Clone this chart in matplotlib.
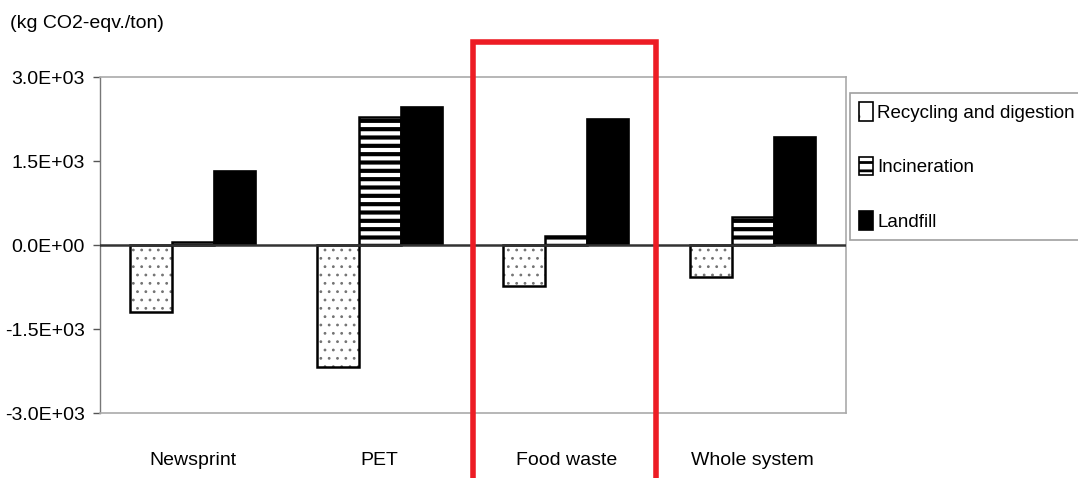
import matplotlib
matplotlib.use("Agg")
import matplotlib.pyplot as plt
from matplotlib.patches import Rectangle
import numpy as np

plt.rcParams['font.family'] = ['Liberation Sans', 'DejaVu Sans']

categories = ["Newsprint", "PET", "Food waste", "Whole system"]
series = ["Recycling and digestion", "Incineration", "Landfill"]
recycling = [-1200, -2180, -730, -570]
incineration = [50, 2280, 160, 500]
landfill = [1330, 2460, 2250, 1930]
yticks = [3000, 1500, 0, -1500, -3000]
ytick_labels = ["3.0E+03", "1.5E+03", "0.0E+00", "-1.5E+03", "-3.0E+03"]

W, H = 1078, 478
fig = plt.figure(figsize=(W/100, H/100), dpi=100)
ax = fig.add_axes([100/W, (H-413)/H, 746/W, 336/H])

x = np.arange(len(categories))
bw = 0.225
plt.rcParams['hatch.linewidth'] = 0.8
plt.rcParams['hatch.color'] = '#666666'
b1 = ax.bar(x - bw, recycling, bw, facecolor='white', edgecolor='black', linewidth=1.8,
            hatch='..', zorder=3, label=series[0])
for p in b1:
    p._hatch_color = (0.45, 0.45, 0.45, 1)
plt.rcParams['hatch.linewidth'] = 3.0
b2 = ax.bar(x, incineration, bw, facecolor='white', edgecolor='black', linewidth=1.8,
            hatch='--', zorder=3, label=series[1])
for p in b2:
    p._hatch_color = (0, 0, 0, 1)
    if hasattr(p, 'set_hatch_linewidth'):
        p.set_hatch_linewidth(3.0)
b3 = ax.bar(x + bw, landfill, bw, facecolor='black', edgecolor='black', linewidth=1.2,
            zorder=3, label=series[2])

ax.axhline(0, color='#333333', lw=1.8, zorder=4)
ax.set_xlim(-0.5, 3.5)
ax.set_ylim(-3000, 3000)
ax.set_yticks(yticks)
ax.set_yticklabels(ytick_labels, fontsize=14)
ax.set_xticks(x)
ax.set_xticklabels(categories, fontsize=14)
ax.tick_params(axis='x', length=0, pad=28)
ax.tick_params(axis='y', length=5, width=1, color='#555555', pad=6, direction='out')
for s in ['top', 'bottom', 'right']:
    ax.spines[s].set_color('#aaaaaa')
    ax.spines[s].set_linewidth(1.2)
ax.spines['left'].set_color('#777777')
ax.spines['left'].set_linewidth(1.0)

fig.text(10/W, 1 - 24/H, "(kg CO2-eqv./ton)", fontsize=14, va='center', ha='left')

leg = fig.legend(handles=[b1, b2, b3], labels=series, loc='upper left',
                 bbox_to_anchor=(850/W, 1 - 93/H), fontsize=13.5, frameon=True,
                 fancybox=False, edgecolor='#888888', handlelength=0.75, handleheight=1.15,
                 handletextpad=0.2, labelspacing=1.85, borderpad=0.5, borderaxespad=0)
leg.get_frame().set_linewidth(1.2)
handles = getattr(leg, 'legend_handles', None) or getattr(leg, 'legendHandles', [])
if handles:
    h0 = handles[0]
    h0._hatch_linewidth = 0.6
    h0.set_hatch('.')
    h0.set_linewidth(1.2)
    handles[1]._hatch_linewidth = 2.0
    handles[1].set_linewidth(1.2)

# red highlight box
fig.patches.append(Rectangle((473/W, -0.1), 183/W, 1 - 42/H + 0.1, transform=fig.transFigure,
                             fill=False, edgecolor='#ED1C24', linewidth=4, zorder=10))

fig.savefig("out.png", dpi=100)
